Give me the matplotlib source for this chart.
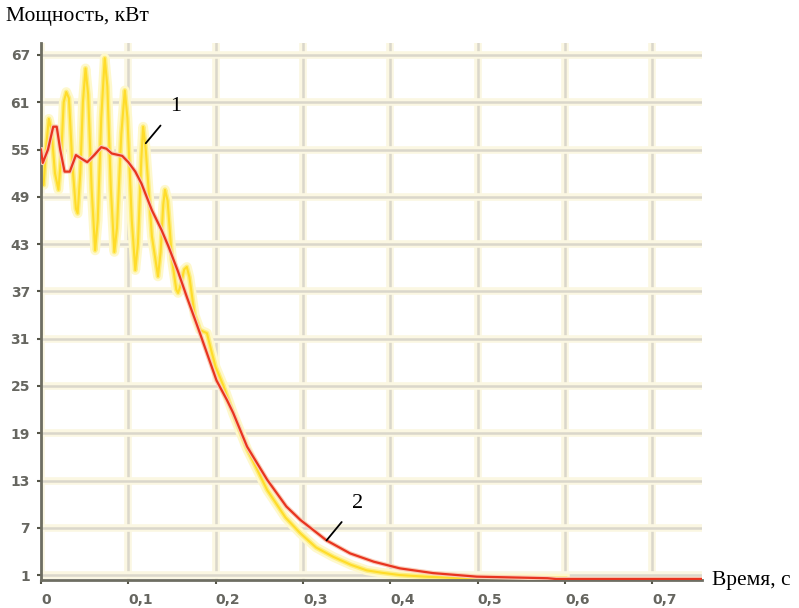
import numpy as np
import matplotlib.pyplot as plt

# curve 1 (yellow) - measured power
t1 = [0.000, 0.003, 0.006, 0.009, 0.012, 0.016, 0.020, 0.023, 0.026, 0.029,
      0.032, 0.036, 0.040, 0.042, 0.045, 0.048, 0.051, 0.054, 0.058, 0.062,
      0.065, 0.069, 0.073, 0.076, 0.080, 0.084, 0.087, 0.092, 0.096, 0.099,
      0.104, 0.108, 0.111, 0.115, 0.117, 0.120, 0.127, 0.134, 0.137, 0.140,
      0.142, 0.145, 0.150, 0.155, 0.157, 0.160, 0.164, 0.167, 0.170, 0.176,
      0.182, 0.186, 0.190, 0.195, 0.200, 0.209, 0.220, 0.236, 0.259, 0.280,
      0.297, 0.315, 0.335, 0.355, 0.373, 0.390, 0.411, 0.440, 0.470, 0.500,
      0.600]
p1 = [51.5, 50.5, 55.5, 58.9, 57.5, 52.0, 49.9, 54.0, 61.0, 62.3,
      61.5, 53.0, 47.5, 46.9, 52.0, 61.0, 65.3, 62.0, 50.0, 42.2,
      46.0, 59.0, 66.6, 63.0, 50.0, 42.0, 45.0, 57.0, 62.5, 59.0,
      46.0, 39.7, 43.0, 54.0, 57.9, 55.0, 44.0, 38.9, 42.0, 48.0,
      49.9, 48.5, 41.0, 37.2, 36.8, 37.8, 39.8, 40.1, 38.8, 34.0,
      32.1, 31.9, 31.7, 29.5, 27.4, 25.0, 21.5, 17.0, 11.8, 8.3,
      6.3, 4.5, 3.3, 2.3, 1.6, 1.3, 1.0, 0.8, 0.65, 0.58,
      0.55]

# curve 2 (red) - model
t2 = [0, 0.002, 0.008, 0.014, 0.018, 0.022, 0.027, 0.033, 0.040, 0.047,
      0.053, 0.061, 0.069, 0.075, 0.081, 0.093, 0.100, 0.108, 0.115, 0.127,
      0.138, 0.146, 0.157, 0.167, 0.182, 0.201, 0.213, 0.220, 0.236, 0.259,
      0.281, 0.297, 0.327, 0.354, 0.381, 0.411, 0.449, 0.499, 0.580, 0.590,
      0.757]
p2 = [55.0, 53.3, 55.0, 57.9, 57.9, 55.0, 52.2, 52.2, 54.3, 53.8,
      53.4, 54.3, 55.3, 55.1, 54.5, 54.2, 53.4, 52.2, 50.7, 47.3,
      44.8, 42.7, 39.5, 36.3, 31.7, 25.7, 23.2, 21.6, 17.3, 13.1,
      9.7, 8.0, 5.4, 3.75, 2.7, 1.85, 1.25, 0.8, 0.6, 0.5,
      0.5]

xticks = [0, 0.1, 0.2, 0.3, 0.4, 0.5, 0.6, 0.7]
xlabels = ['0', '0,1', '0,2', '0,3', '0,4', '0,5', '0,6', '0,7']
yticks = [1, 7, 13, 19, 25, 31, 37, 43, 49, 55, 61, 67]

fig = plt.figure(figsize=(7.99, 6.08), dpi=100)
ax = fig.add_axes([0.0513, 0.046, 0.8273, 0.883])
ax.set_xlim(0, 0.757)
ax.set_ylim(0.37, 68.5)

# grid: pale cream glow with a thin grey core
for x in xticks:
    ax.axvline(x, color='#fbf7e2', lw=5.5, zorder=0)
    ax.axvline(x, color='#dad7cb', lw=1.8, zorder=0)
for y in yticks:
    ax.axhline(y, color='#fbf7e2', lw=5.5, zorder=0)
    ax.axhline(y, color='#dad7cb', lw=1.8, zorder=0)

# yellow curve with halo
ax.plot(t1, p1, color='#fef8cc', lw=7, solid_joinstyle='round', zorder=2)
ax.plot(t1, p1, color='#fdee80', lw=3.5, solid_joinstyle='round', zorder=2)
ax.plot(t1, p1, color='#ffdc2a', lw=1.5, solid_joinstyle='round', zorder=2)

# red curve
ax.plot(t2, p2, color='#f9cdb8', lw=3.2, solid_joinstyle='round', zorder=3)
ax.plot(t2, p2, color='#e8341f', lw=1.6, solid_joinstyle='round', zorder=3)

for side in ['top', 'right']:
    ax.spines[side].set_visible(False)
for side in ['left', 'bottom']:
    ax.spines[side].set_color('#6e6e62')
    ax.spines[side].set_linewidth(2)

ax.set_xticks(xticks)
ax.set_xticklabels(xlabels, ha='left')
ax.set_yticks(yticks)
ax.tick_params(axis='both', direction='out', length=3, width=1.5,
               color='#555548', labelcolor='#666660', labelsize=10)
ax.tick_params(axis='x', pad=6)
ax.tick_params(axis='y', pad=5)
for lab in ax.get_xticklabels() + ax.get_yticklabels():
    lab.set_fontweight('bold')
for lab in ax.get_xticklabels():
    lab.set_x(lab.get_position()[0] - 0.002)

# annotations
ax.annotate('1', xy=(0.120, 55.8), xytext=(0.1546, 60.4),
            fontsize=16, family='Liberation Serif', ha='center', va='center',
            arrowprops=dict(arrowstyle='-', color='black', lw=1.3,
                            shrinkA=8, shrinkB=0))
ax.annotate('2', xy=(0.327, 5.4), xytext=(0.362, 10.1),
            fontsize=16, family='Liberation Serif', ha='center', va='center',
            arrowprops=dict(arrowstyle='-', color='black', lw=1.3,
                            shrinkA=8, shrinkB=0))

fig.text(6 / 799, 1 - 17 / 608, 'Мощность, кВт', fontsize=15.5,
         family='Liberation Serif', ha='left', va='center')
fig.text(712 / 799, 1 - 580 / 608, 'Время, с', fontsize=15.5,
         family='Liberation Serif', ha='left', va='center')

fig.savefig('out.png', dpi=100)
